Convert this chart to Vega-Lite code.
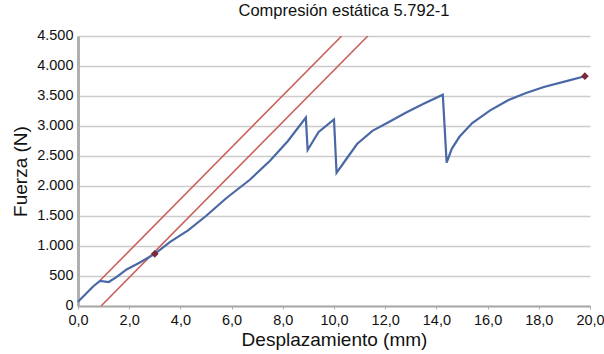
{
  "$schema": "https://vega.github.io/schema/vega-lite/v6.json",
  "autosize": "none",
  "width": 512,
  "height": 270,
  "padding": {"left": 78, "top": 36, "right": 14, "bottom": 48},
  "background": "white",
  "title": {"text": "Compresión estática 5.792-1", "font": "Liberation Sans", "fontSize": 16.5, "fontWeight": "normal", "color": "#111", "offset": 8, "anchor": "middle", "dx": 10},
  "config": {"view": {"stroke": null}},
  "datasets": {
    "curve": [
      {"i": 0, "x": 0.0, "y": 70},
      {"i": 1, "x": 0.3, "y": 200},
      {"i": 2, "x": 0.6, "y": 330},
      {"i": 3, "x": 0.86, "y": 420},
      {"i": 4, "x": 1.2, "y": 400},
      {"i": 5, "x": 1.5, "y": 480},
      {"i": 6, "x": 1.9, "y": 610},
      {"i": 7, "x": 2.4, "y": 720},
      {"i": 8, "x": 3.0, "y": 870},
      {"i": 9, "x": 3.6, "y": 1070},
      {"i": 10, "x": 4.3, "y": 1260},
      {"i": 11, "x": 5.0, "y": 1500},
      {"i": 12, "x": 5.8, "y": 1800},
      {"i": 13, "x": 6.7, "y": 2100},
      {"i": 14, "x": 7.5, "y": 2420},
      {"i": 15, "x": 8.2, "y": 2750},
      {"i": 16, "x": 8.9, "y": 3140},
      {"i": 17, "x": 8.97, "y": 2600},
      {"i": 18, "x": 9.4, "y": 2900},
      {"i": 19, "x": 10.0, "y": 3110},
      {"i": 20, "x": 10.1, "y": 2220},
      {"i": 21, "x": 10.4, "y": 2400},
      {"i": 22, "x": 10.9, "y": 2700},
      {"i": 23, "x": 11.5, "y": 2920},
      {"i": 24, "x": 12.2, "y": 3080},
      {"i": 25, "x": 12.8, "y": 3220},
      {"i": 26, "x": 13.5, "y": 3370},
      {"i": 27, "x": 14.25, "y": 3520},
      {"i": 28, "x": 14.4, "y": 2390},
      {"i": 29, "x": 14.6, "y": 2620},
      {"i": 30, "x": 14.9, "y": 2820},
      {"i": 31, "x": 15.4, "y": 3050},
      {"i": 32, "x": 16.1, "y": 3260},
      {"i": 33, "x": 16.8, "y": 3430},
      {"i": 34, "x": 17.5, "y": 3550},
      {"i": 35, "x": 18.2, "y": 3650},
      {"i": 36, "x": 19.0, "y": 3740},
      {"i": 37, "x": 19.8, "y": 3830}
    ],
    "lines": [
      {"g": "a", "x": 0.85, "y": 420},
      {"g": "a", "x": 10.3, "y": 4500},
      {"g": "b", "x": 0.9, "y": 0},
      {"g": "b", "x": 11.32, "y": 4500}
    ],
    "markers": [
      {"x": 3.0, "y": 870},
      {"x": 19.8, "y": 3830}
    ]
  },
  "encoding": {
    "x": {"field": "x", "type": "quantitative", "scale": {"domain": [0, 20], "nice": false},
      "axis": {"values": [0, 2, 4, 6, 8, 10, 12, 14, 16, 18, 20], "labelExpr": "replace(format(datum.value, '.1f'), '.', ',')", "labelFlush": false, "labelOverlap": false, "title": "Desplazamiento (mm)", "grid": false, "domainColor": "#aaaaaa", "domainWidth": 2, "tickColor": "#aaaaaa", "tickSize": 3, "labelFont": "Liberation Sans", "labelFontSize": 14.5, "labelColor": "#111", "titleFont": "Liberation Sans", "titleFontSize": 19, "titleFontWeight": "normal", "titleColor": "#111", "labelPadding": 4, "titlePadding": 4}},
    "y": {"field": "y", "type": "quantitative", "scale": {"domain": [0, 4500], "nice": false},
      "axis": {"values": [0, 500, 1000, 1500, 2000, 2500, 3000, 3500, 4000, 4500], "labelExpr": "replace(format(datum.value, ','), ',', '.')", "labelOverlap": false, "labelFlush": false, "labelOffset": -1, "title": "Fuerza (N)", "grid": true, "gridColor": "#cccccc", "gridWidth": 1.5, "domainColor": "#b0b0b0", "domainWidth": 3, "ticks": false, "labelFont": "Liberation Sans", "labelFontSize": 14.5, "labelColor": "#111", "titleFont": "Liberation Sans", "titleFontSize": 19, "titleFontWeight": "normal", "titleColor": "#111", "labelPadding": 5, "titlePadding": 6}}
  },
  "layer": [
    {
      "data": {"name": "lines"},
      "mark": {"type": "line", "color": "#c8625a", "strokeWidth": 1.6, "clip": true},
      "encoding": {"detail": {"field": "g"}}
    },
    {
      "data": {"name": "curve"},
      "mark": {"type": "line", "color": "#4a68a6", "strokeWidth": 2.2},
      "encoding": {"order": {"field": "i"}}
    },
    {
      "data": {"name": "markers"},
      "mark": {"type": "point", "shape": "diamond", "filled": true, "color": "#7a2a3a", "size": 60, "opacity": 1},
      "encoding": {}
    }
  ]
}
